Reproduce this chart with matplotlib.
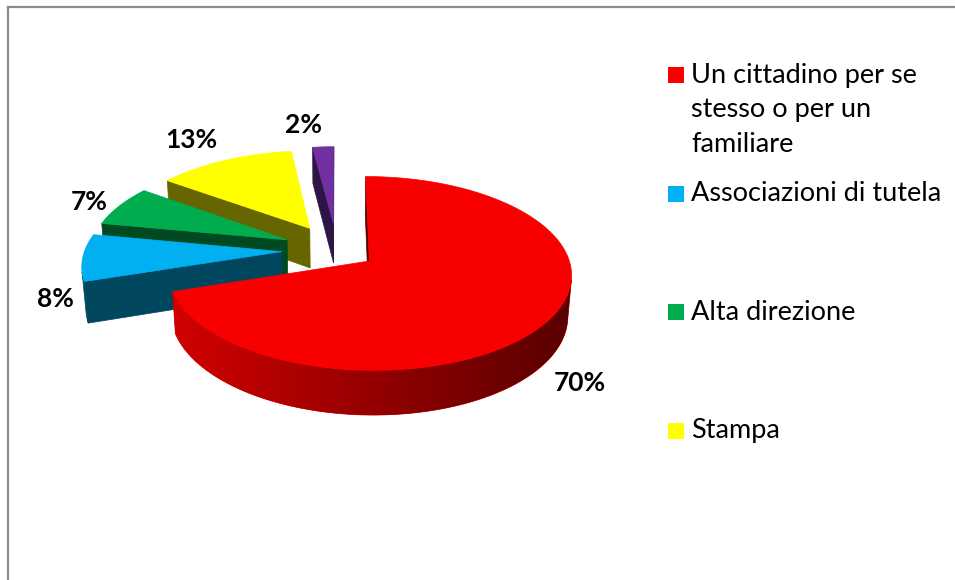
import numpy as np
import matplotlib.pyplot as plt
from matplotlib.patches import Polygon, Rectangle
from matplotlib.colors import to_rgb

# data
values = [70, 8, 7, 13, 2]
pct_labels = ["70%", "8%", "7%", "13%", "2%"]
legend_labels = ["Un cittadino per se\nstesso o per un\nfamiliare",
                 "Associazioni di tutela", "Alta direzione", "Stampa"]
top_colors = ["#f80000", "#00b0f0", "#00ad4e", "#ffff00", "#7030a0"]
side_light = ["#d20000", "#00465f", "#004a22", "#666600", "#2e1548"]
side_dark = ["#580000", "#00465f", "#004a22", "#666600", "#2e1548"]
explode = [0.2, 0.28, 0.28, 0.28, 0.3]

# fake 3d view (excel style perspective pie)
ELEV = np.radians(28)
DIST = 7.0
SCALE = 197.0
CX, CY = 337, 250
HEIGHT = 0.236
cam = np.array([0.0, -DIST * np.cos(ELEV), DIST * np.sin(ELEV)])


def proj(X, Y, Z):
    v = Y * np.sin(ELEV) + Z * np.cos(ELEV)
    w = Y * np.cos(ELEV) - Z * np.sin(ELEV)
    s = DIST / (DIST + w)
    return CX + SCALE * X * s, CY - SCALE * v * s


fig = plt.figure(figsize=(9.55, 5.8), dpi=100)
ax = fig.add_axes([0, 0, 1, 1])

fracs = np.array(values) / sum(values)
cum = np.concatenate([[0], np.cumsum(fracs)])
slices = []
for i in range(len(values)):
    th_start = np.radians(90 - cum[i] * 360)
    th_end = np.radians(90 - cum[i + 1] * 360)
    mid = (th_start + th_end) / 2
    ox, oy = explode[i] * np.cos(mid), explode[i] * np.sin(mid)
    slices.append((th_end, th_start, mid, ox, oy))


def poly(pts, color, z):
    p = Polygon(pts, closed=True, facecolor=color, edgecolor=color,
                linewidth=0.5, zorder=z)
    ax.add_patch(p)
    return p


z = 2
for i in [4, 3, 2, 1, 0]:
    th1, th2, mid, ox, oy = slices[i]
    n = max(int(np.degrees(th2 - th1) * 2), 6)
    t = np.linspace(th1, th2, n)
    center = np.array([ox, oy, 0.0])

    # radial faces
    for th, normal in [(th1, (np.sin(th1), -np.cos(th1), 0)),
                       (th2, (-np.sin(th2), np.cos(th2), 0))]:
        if np.dot(normal, cam - center) > 0:
            ex, ey = ox + np.cos(th), oy + np.sin(th)
            pts = [proj(ox, oy, 0), proj(ex, ey, 0),
                   proj(ex, ey, -HEIGHT), proj(ox, oy, -HEIGHT)]
            poly(pts, side_dark[i], z)
            z += 0.01

    # outer side (visible part only)
    vis = [tk for tk in t
           if np.dot([np.cos(tk), np.sin(tk), 0],
                     cam - np.array([ox + np.cos(tk), oy + np.sin(tk), -HEIGHT / 2])) > 0]
    if len(vis) > 1:
        vis = np.array(vis)
        upper = [proj(ox + np.cos(tk), oy + np.sin(tk), 0) for tk in vis]
        lower = [proj(ox + np.cos(tk), oy + np.sin(tk), -HEIGHT) for tk in vis[::-1]]
        side = poly(upper + lower, side_light[i], z)
        if side_light[i] != side_dark[i]:
            xs = [p[0] for p in upper]
            c1, c2 = np.array(to_rgb(side_light[i])), np.array(to_rgb(side_dark[i]))
            grad = np.linspace(0, 1, 256)[None, :, None]
            img = c1 + (c2 - c1) * grad
            im = ax.imshow(img, extent=(min(xs), max(xs), 580, 0), aspect="auto",
                           interpolation="bilinear", zorder=z + 0.001)
            im.set_clip_path(side)
        z += 0.01

    # top face
    top = [proj(ox, oy, 0)] + [proj(ox + np.cos(tk), oy + np.sin(tk), 0) for tk in t]
    poly(top, top_colors[i], z)
    z += 0.01

# percentage labels, placed just outside each slice
for i, lab in enumerate(pct_labels):
    th1, th2, mid, ox, oy = slices[i]
    zl = -HEIGHT if np.sin(mid) < 0 else 0
    px, py = proj(ox + np.cos(mid), oy + np.sin(mid), zl)
    px += 13 * np.cos(mid)
    py -= 10 * np.sin(mid)
    ha = "left" if np.cos(mid) > 0 else "right"
    va = "top" if np.sin(mid) < -0.5 else ("bottom" if np.sin(mid) > 0.5 else "center")
    ax.text(px, py, lab, ha=ha, va=va, fontsize=19, fontweight="bold",
            family="Lato", color="black", zorder=20)

# legend
for k, lab in enumerate(legend_labels):
    y0 = 75 + 118.5 * k
    ax.add_patch(Rectangle((668, y0 - 8), 16, 16, facecolor=top_colors[k],
                           edgecolor="none", zorder=20))
    for j, line in enumerate(lab.split("\n")):
        ax.text(691, y0 + 35 * j, line, ha="left", va="center", fontsize=19.5,
                family="Lato", color="black", zorder=20)

# chart frame (left and top edges only)
ax.plot([8, 8], [7, 580], color="#8c8c8c", lw=1.6, zorder=30)
ax.plot([8, 955], [7, 7], color="#8c8c8c", lw=1.6, zorder=30)

ax.set_xlim(0, 955)
ax.set_ylim(580, 0)
ax.axis("off")

fig.savefig("out.png", dpi=100)
